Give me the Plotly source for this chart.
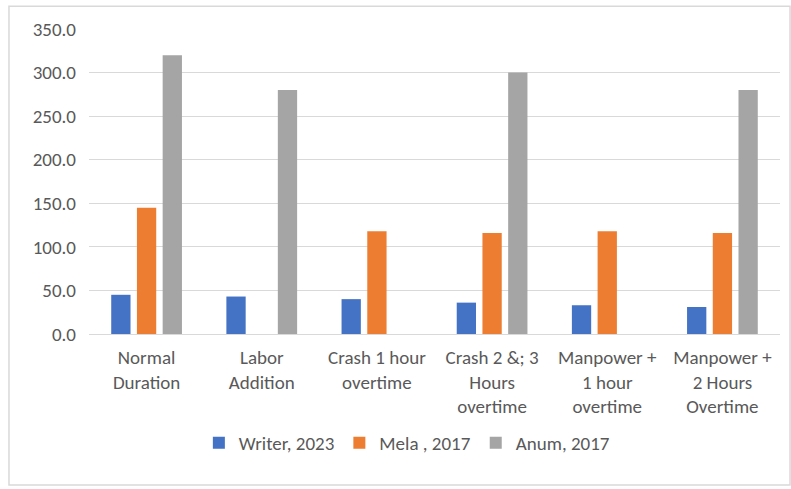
import plotly.graph_objects as go

# Project duration (days) under different crashing scenarios
categories = [
    "Normal<br>Duration",
    "Labor<br>Addition",
    "Crash 1 hour<br>overtime",
    "Crash 2 &; 3<br>Hours<br>overtime",
    "Manpower +<br>1 hour<br>overtime",
    "Manpower +<br>2 Hours<br>Overtime",
]
writer_2023 = [45, 43, 40, 36, 33, 31]
mela_2017 = [145, None, 118, 116, 118, 116]
anum_2017 = [320, 280, None, 300, None, 280]

series_names = ["Writer, 2023", "Mela , 2017", "Anum, 2017"]
series_colors = ["#4472C4", "#ED7D31", "#A5A5A5"]

font_family = "Calibri, Carlito, Lato, sans-serif"
text_color = "#595959"
grid_color = "#D9D9D9"
font_size = 19

fig = go.Figure()
for name, vals, color in zip(series_names, [writer_2023, mela_2017, anum_2017], series_colors):
    fig.add_trace(go.Bar(x=categories, y=vals, name=name, marker_color=color,
                         marker_line_width=0))

fig.update_layout(
    width=791, height=489,
    margin=dict(l=89, r=11, t=29, b=155),
    paper_bgcolor="white", plot_bgcolor="white",
    barmode="group", bargap=0.33, bargroupgap=0.25,
    font=dict(family=font_family, size=font_size, color=text_color),
    showlegend=True,
    legend=dict(orientation="h", x=0.46, xanchor="center", y=-0.357, yanchor="middle",
                font=dict(size=font_size, color=text_color), itemwidth=30,
                itemsizing="constant", traceorder="normal"),
    shapes=[dict(type="rect", xref="paper", yref="paper",
                 x0=-0.1158, x1=1.0145, y0=-0.495, y1=1.075,
                 line=dict(color=grid_color, width=1.5), layer="below")],
)
fig.update_xaxes(showgrid=False, showline=True, linecolor=grid_color, linewidth=1,
                 ticks="", tickfont=dict(size=font_size, color=text_color), ticklabelstandoff=6)
fig.update_yaxes(range=[0, 350], dtick=50, tickformat=".1f", showgrid=True,
                 gridcolor=grid_color, gridwidth=1, zeroline=False, showline=False,
                 ticks="", tickfont=dict(size=font_size, color=text_color), ticklabelstandoff=12)

fig.write_html("out.html")
